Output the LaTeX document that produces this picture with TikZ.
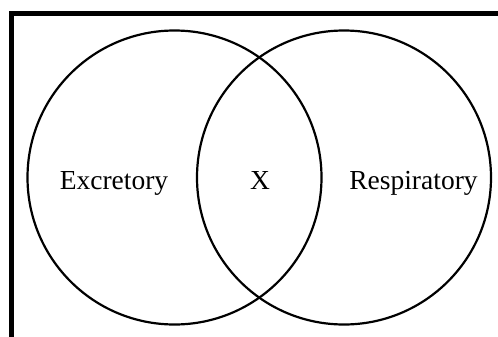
\documentclass[tikz,border=0pt]{standalone}
\usepackage{fontspec}
\setmainfont{Liberation Serif}
\begin{document}
\begin{tikzpicture}[x=1pt,y=-1pt,
  venn/.style={draw=black,line width=2.2pt,circle,minimum size=294pt,inner sep=0pt},
  lbl/.style={font=\fontsize{27.5}{32}\selectfont,inner sep=0pt,anchor=base},
  frame/.style={line width=5pt}]
\useasboundingbox (0,0) rectangle (498,337);
\draw[frame] (11.5,337) -- (11.5,13.5) -- (498,13.5);
\node[venn] (L) at (174.5,177.5) {};
\node[venn] (R) at (344,177.5) {};
\node[lbl] (ex) at (114,189) {Excretory};
\node[lbl] (x) at (260,189) {X};
\node[lbl] (re) at (413.5,189) {Respiratory};
\end{tikzpicture}
\end{document}
